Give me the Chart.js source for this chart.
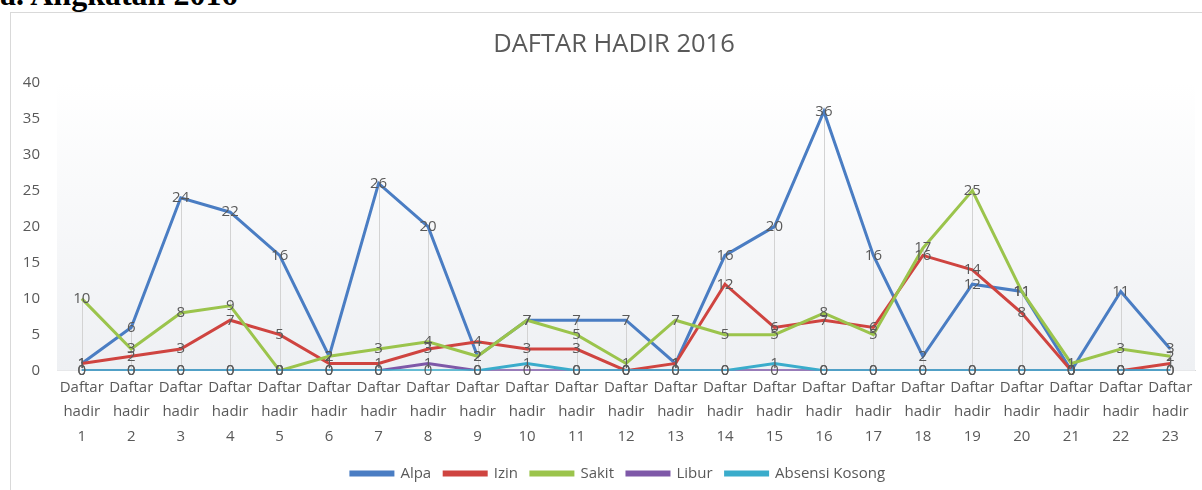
<!DOCTYPE html>
<html>
<head>
<meta charset="utf-8">
<script src="https://cdn.jsdelivr.net/npm/chart.js@4.4.1/dist/chart.umd.min.js"></script>
<style>
  html, body { margin: 0; padding: 0; background: #fff; overflow: hidden; width: 1202px; height: 490px; }
  #heading {
    position: absolute; left: 0; top: -24px; line-height: 32px;
    font: bold 32px "Liberation Serif", serif; color: #000; white-space: nowrap;
  }
  #box {
    position: absolute; left: 10px; top: 12px; width: 1210px; height: 484px;
    border: 1px solid #d9d9d9; background: #fff;
  }
  #box canvas { position: absolute; left: 0; top: 0; }
</style>
</head>
<body>
<div id="heading">a. Angkatan 2016</div>
<div id="box"><canvas id="myChart" width="1207" height="480"></canvas></div>
<script>
// Data
const days = ['1','2','3','4','5','6','7','8','9','10','11','12','13','14','15','16','17','18','19','20','21','22','23'];
const alpa   = [1, 6, 24, 22, 16, 2, 26, 20, 2, 7, 7, 7, 1, 16, 20, 36, 16, 2, 12, 11, 0, 11, 3];
const izin   = [1, 2, 3, 7, 5, 1, 1, 3, 4, 3, 3, 0, 1, 12, 6, 7, 6, 16, 14, 8, 0, 0, 1];
const sakit  = [10, 3, 8, 9, 0, 2, 3, 4, 2, 7, 5, 1, 7, 5, 5, 8, 5, 17, 25, 11, 1, 3, 2];
const libur  = [0, 0, 0, 0, 0, 0, 0, 1, 0, 0, 0, 0, 0, 0, 0, 0, 0, 0, 0, 0, 0, 0, 0];
const absensiKosong = [0, 0, 0, 0, 0, 0, 0, 0, 0, 1, 0, 0, 0, 0, 1, 0, 0, 0, 0, 0, 0, 0, 0];
const yTicks = [0, 5, 10, 15, 20, 25, 30, 35, 40];

const labels = days.map(d => ['Daftar', 'hadir', d]);
const gray = '#595959';
const font = '"Open Sans", sans-serif';

// plot background + drop lines from the highest point down to the axis
const dropLines = {
  id: 'dropLines',
  afterLayout(chart) {
    // title and legend sit a little right of centre in the original
    if (chart.titleBlock) { chart.titleBlock.left += 5; chart.titleBlock.right += 5; }
    if (chart.legend) { chart.legend.left += 9; chart.legend.right += 9; }
  },
  beforeDatasetsDraw(chart) {
    const { ctx, chartArea, scales: { x, y } } = chart;
    const g = ctx.createLinearGradient(0, chartArea.top, 0, chartArea.bottom);
    g.addColorStop(0, '#ffffff');
    g.addColorStop(1, '#eef0f3');
    ctx.save();
    ctx.fillStyle = g;
    ctx.fillRect(chartArea.left, chartArea.top, chartArea.right - chartArea.left, chartArea.bottom - chartArea.top);
    ctx.strokeStyle = '#d3d3d3';
    ctx.lineWidth = 1;
    days.forEach((d, i) => {
      const top = Math.max(...chart.data.datasets.map(ds => ds.data[i]));
      const px = Math.round(x.getPixelForValue(i)) + 0.5;
      ctx.beginPath();
      ctx.moveTo(px, y.getPixelForValue(top));
      ctx.lineTo(px, y.getPixelForValue(0));
      ctx.stroke();
    });
    ctx.restore();
  }
};

// value labels centred on each point
const valueLabels = {
  id: 'valueLabels',
  afterDatasetsDraw(chart) {
    const { ctx } = chart;
    ctx.save();
    ctx.font = '15px ' + font;
    ctx.fillStyle = gray;
    ctx.textAlign = 'center';
    ctx.textBaseline = 'middle';
    chart.data.datasets.forEach((ds, di) => {
      chart.getDatasetMeta(di).data.forEach((pt, i) => {
        ctx.fillText(String(ds.data[i]), pt.x, pt.y);
      });
    });
    ctx.restore();
  }
};

function series(label, data, color, order) {
  return {
    label: label,
    data: data,
    borderColor: color,
    backgroundColor: color,
    borderWidth: 3,
    pointRadius: 0,
    tension: 0,
    fill: false,
    order: order
  };
}

new Chart(document.getElementById('myChart'), {
  type: 'line',
  data: {
    labels: labels,
    datasets: [
      series('Alpa', alpa, '#4a7dc3', 5),
      series('Izin', izin, '#cf4440', 4),
      series('Sakit', sakit, '#9bc44c', 3),
      series('Libur', libur, '#7e58a8', 2),
      series('Absensi Kosong', absensiKosong, '#3aaccb', 1)
    ]
  },
  options: {
    responsive: false,
    animation: false,
    layout: { padding: { left: 12, right: 23, top: 0, bottom: 2 } },
    plugins: {
      title: {
        display: true,
        text: 'DAFTAR HADIR 2016',
        color: gray,
        font: { family: font, size: 25.5, weight: 'normal' },
        padding: { top: 16, bottom: 23 }
      },
      legend: {
        position: 'bottom',
        labels: {
          color: gray,
          font: { family: font, size: 15 },
          boxWidth: 42,
          boxHeight: 3,
          padding: 13,
          sort: (a, b) => a.datasetIndex - b.datasetIndex
        }
      },
      tooltip: { enabled: false }
    },
    scales: {
      x: {
        offset: true,
        grid: { display: false, drawTicks: false },
        border: { display: true, color: '#d9d9d9', width: 1 },
        ticks: {
          color: gray,
          font: { family: font, size: 15, lineHeight: 1.63 },
          padding: 4.5,
          maxRotation: 0,
          autoSkip: false
        }
      },
      y: {
        min: 0,
        max: 40,
        afterBuildTicks: axis => { axis.ticks = yTicks.map(v => ({ value: v })); },
        afterFit: axis => { axis.width = 34; },
        grid: { display: false, drawTicks: false },
        border: { display: false },
        ticks: {
          color: gray,
          font: { family: font, size: 15 },
          padding: 17
        }
      }
    }
  },
  plugins: [dropLines, valueLabels]
});
</script>
</body>
</html>
